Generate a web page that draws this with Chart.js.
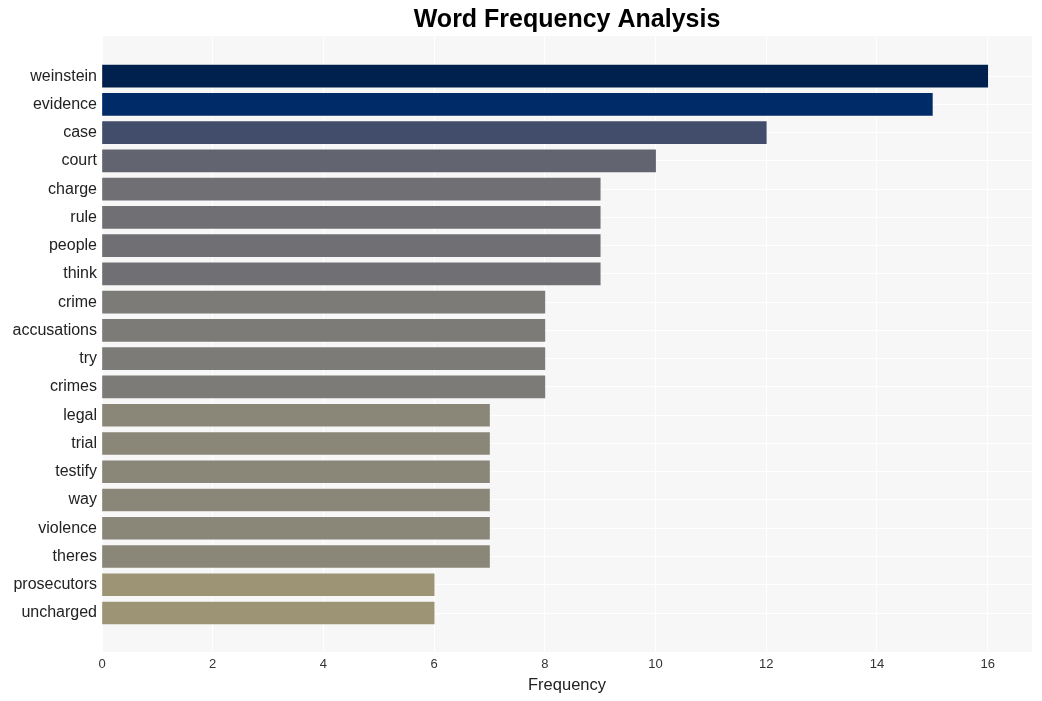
<!DOCTYPE html>
<html>
<head>
<meta charset="utf-8">
<script src="https://cdn.jsdelivr.net/npm/chart.js@4/dist/chart.umd.min.js"></script>
<style>
html,body{margin:0;padding:0;background:#ffffff;}
#wrap{position:relative;width:1042px;height:701px;}
</style>
</head>
<body>
<div id="wrap"><canvas id="c" width="1042" height="701"></canvas></div>
<script>
const words = ["weinstein","evidence","case","court","charge","rule","people","think","crime","accusations","try","crimes","legal","trial","testify","way","violence","theres","prosecutors","uncharged"];
const counts = [16,15,12,10,9,9,9,9,8,8,8,8,7,7,7,7,7,7,6,6];
const colorByCount = {16:"#00204e",15:"#002b69",12:"#424d6b",10:"#62646f",9:"#707074",8:"#7c7b78",7:"#8a8779",6:"#9c9475"};
const xTicks = [0,2,4,6,8,10,12,14,16];
const titleText = "Word Frequency Analysis";

const panelBg = {
  id: "panelBg",
  beforeDraw(chart) {
    const {ctx, chartArea: a} = chart;
    ctx.save();
    ctx.fillStyle = "#f7f7f7";
    ctx.fillRect(a.left, a.top, a.right - a.left, a.bottom - a.top);
    ctx.restore();
  },
  afterDraw(chart) {
    const {ctx, chartArea: a} = chart;
    ctx.save();
    ctx.fillStyle = "#000000";
    ctx.font = "bold 25px 'Liberation Sans', Arial, sans-serif";
    ctx.textAlign = "center";
    ctx.textBaseline = "middle";
    ctx.fillText(titleText, (a.left + a.right) / 2, 20);
    ctx.restore();
  }
};

new Chart(document.getElementById("c"), {
  type: "bar",
  data: {
    datasets: [{
      data: counts.map((v, i) => ({x: v, y: i})),
      backgroundColor: counts.map(v => colorByCount[v]),
      barThickness: 22,
      borderWidth: 0
    }]
  },
  options: {
    indexAxis: "y",
    responsive: false,
    animation: false,
    layout: {padding: {top: 36, right: 10, left: 0, bottom: 0}},
    plugins: {legend: {display: false}, tooltip: {enabled: false}, title: {display: false}},
    scales: {
      x: {
        type: "linear",
        min: 0,
        max: 16.8,
        afterBuildTicks: s => { s.ticks = xTicks.map(v => ({value: v})); },
        grid: {color: "#ffffff", lineWidth: 1, drawTicks: false},
        border: {display: false},
        ticks: {color: "#333333", padding: 5, font: {family: "'Liberation Sans', Arial, sans-serif", size: 13}},
        title: {display: true, text: "Frequency", color: "#222222", padding: {top: 2, bottom: 6}, font: {family: "'Liberation Sans', Arial, sans-serif", size: 16.5}},
        afterFit: s => { s.height = 49; }
      },
      y: {
        type: "linear",
        reverse: true,
        offset: false,
        min: -1.42,
        max: 20.38,
        afterBuildTicks: s => { s.ticks = words.map((w, i) => ({value: i})); },
        grid: {color: "#ffffff", lineWidth: 1, drawTicks: false, offset: false},
        border: {display: false},
        ticks: {
          color: "#222222",
          padding: 5,
          autoSkip: false,
          font: {family: "'Liberation Sans', Arial, sans-serif", size: 16},
          callback: v => words[v] !== undefined ? words[v] : ""
        },
        afterFit: s => { s.width = 102; }
      }
    }
  },
  plugins: [panelBg]
});
</script>
</body>
</html>
